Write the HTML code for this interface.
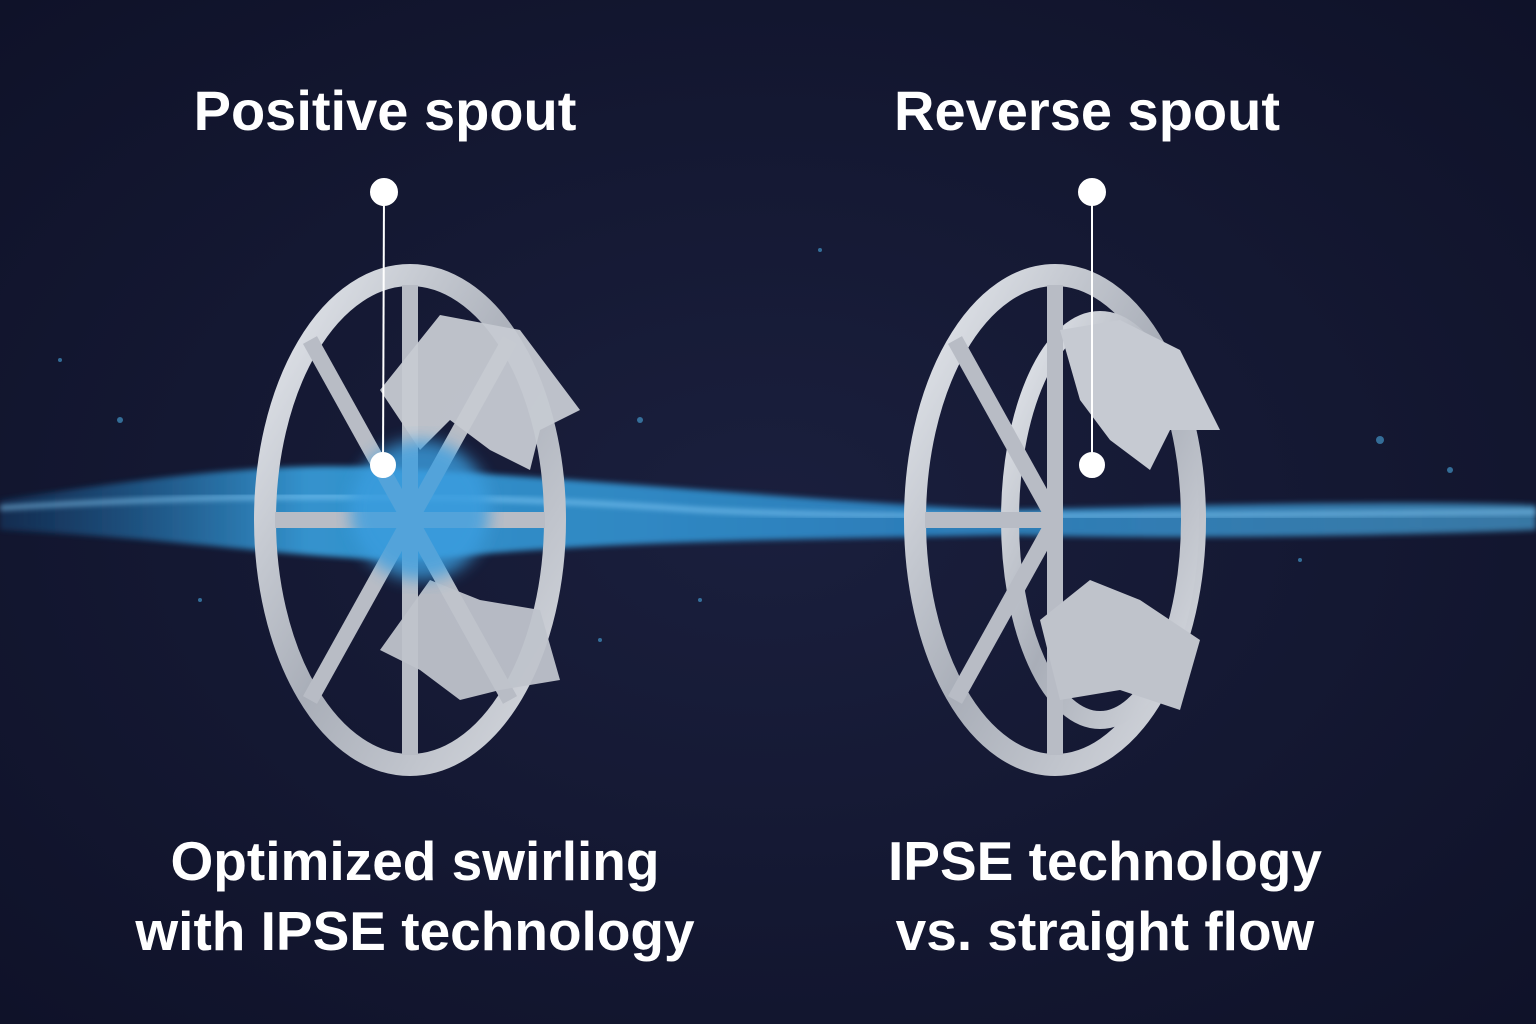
<!DOCTYPE html>
<html><head><meta charset="utf-8"><style>
html,body{margin:0;padding:0;width:1536px;height:1024px;overflow:hidden;background:#141833}
svg{position:absolute;left:0;top:0}
.t{position:absolute;color:#fff;font-family:"Liberation Sans",sans-serif;font-weight:bold;text-align:center;white-space:nowrap}
</style></head><body>
<svg width="1536" height="1024" viewBox="0 0 1536 1024">
<defs>
<radialGradient id="bg" cx="50%" cy="50%" r="70%"><stop offset="0" stop-color="#1a1f3d"/><stop offset="1" stop-color="#0f1229"/></radialGradient>
<linearGradient id="met" x1="0" y1="0" x2="1" y2="1"><stop offset="0" stop-color="#e8ebf0"/><stop offset="0.5" stop-color="#a9aeb8"/><stop offset="1" stop-color="#d7dae0"/></linearGradient>
<filter id="bl"><feGaussianBlur stdDeviation="8"/></filter>
<filter id="bl2"><feGaussianBlur stdDeviation="3"/></filter>
<linearGradient id="wat" x1="0" x2="1"><stop offset="0" stop-color="#1a6fb0" stop-opacity="0.3"/><stop offset="0.2" stop-color="#3aa8e8"/><stop offset="0.6" stop-color="#2f8fd0"/><stop offset="1" stop-color="#4aa6dc" stop-opacity="0.8"/></linearGradient>
</defs>
<rect width="1536" height="1024" fill="url(#bg)"/>
<path d="M0,500 C200,470 300,460 420,470 C600,480 800,500 1000,510 C1200,505 1400,500 1536,505 L1536,530 C1400,535 1200,540 1000,535 C800,540 600,540 420,560 C300,560 200,540 0,530Z" fill="url(#wat)" filter="url(#bl2)" opacity="0.85"/>
<path d="M0,508 C200,495 420,490 700,510 C900,520 1200,515 1536,512" stroke="#8fd4ff" stroke-width="4" fill="none" filter="url(#bl2)" opacity="0.7"/>
<!-- left wheel -->
<ellipse cx="410" cy="520" rx="145" ry="245" stroke-width="22" fill="none" stroke="url(#met)"/>
<g stroke="#b8bcc5" stroke-width="16" fill="none">
<line x1="410" y1="520" x2="410" y2="285"/><line x1="410" y1="520" x2="410" y2="755"/>
<line x1="410" y1="520" x2="275" y2="520"/><line x1="410" y1="520" x2="545" y2="520"/>
<line x1="410" y1="520" x2="310" y2="340"/><line x1="410" y1="520" x2="310" y2="700"/>
<line x1="410" y1="520" x2="510" y2="340"/><line x1="410" y1="520" x2="510" y2="700"/>
</g>
<path d="M380,390 L440,315 L520,330 L580,410 L540,430 L530,470 L490,450 L450,420 L420,450 Z" fill="#c6cad2" opacity="0.95"/>
<path d="M380,650 L430,580 L480,600 L540,610 L560,680 L500,690 L460,700 L420,670 Z" fill="#bfc3cb" opacity="0.95"/>
<ellipse cx="420" cy="510" rx="70" ry="70" fill="#3a9ee0" filter="url(#bl)" opacity="0.8"/>
<!-- right wheel -->
<ellipse cx="1055" cy="520" rx="140" ry="245" stroke-width="22" fill="none" stroke="url(#met)"/>
<ellipse cx="1100" cy="520" rx="90" ry="200" stroke-width="18" fill="none" stroke="url(#met)"/>
<g stroke="#b8bcc5" stroke-width="16" fill="none">
<line x1="1055" y1="520" x2="1055" y2="285"/><line x1="1055" y1="520" x2="1055" y2="755"/>
<line x1="1055" y1="520" x2="925" y2="520"/>
<line x1="1055" y1="520" x2="955" y2="340"/><line x1="1055" y1="520" x2="955" y2="700"/>
</g>
<path d="M1060,330 L1120,320 L1180,350 L1220,430 L1170,430 L1150,470 L1110,440 L1080,400 Z" fill="#c6cad2"/>
<path d="M1040,620 L1090,580 L1140,600 L1200,640 L1180,710 L1120,690 L1060,700 Z" fill="#bfc3cb"/>
<g fill="#4aa6dc" opacity="0.6">
<circle cx="120" cy="420" r="3"/><circle cx="200" cy="600" r="2"/><circle cx="640" cy="420" r="3"/><circle cx="700" cy="600" r="2"/><circle cx="820" cy="250" r="2"/><circle cx="1380" cy="440" r="4"/><circle cx="1450" cy="470" r="3"/><circle cx="1300" cy="560" r="2"/><circle cx="600" cy="640" r="2"/><circle cx="60" cy="360" r="2"/>
</g>
<g stroke="#fff" stroke-width="2" fill="#fff">
<line x1="384" y1="192" x2="383" y2="465"/><circle cx="384" cy="192" r="13"/><circle cx="383" cy="465" r="12"/>
<line x1="1092" y1="192" x2="1092" y2="465"/><circle cx="1092" cy="192" r="13"/><circle cx="1092" cy="465" r="12"/>
</g>
</svg>
<div class="t" style="left:135px;top:78px;width:500px;font-size:56px">Positive spout</div>
<div class="t" style="left:837px;top:78px;width:500px;font-size:56px">Reverse spout</div>
<div class="t" style="left:115px;top:826px;width:600px;font-size:55px;line-height:70px">Optimized swirling<br>with IPSE technology</div>
<div class="t" style="left:805px;top:826px;width:600px;font-size:55px;line-height:70px">IPSE technology<br>vs. straight flow</div>
</body></html>
